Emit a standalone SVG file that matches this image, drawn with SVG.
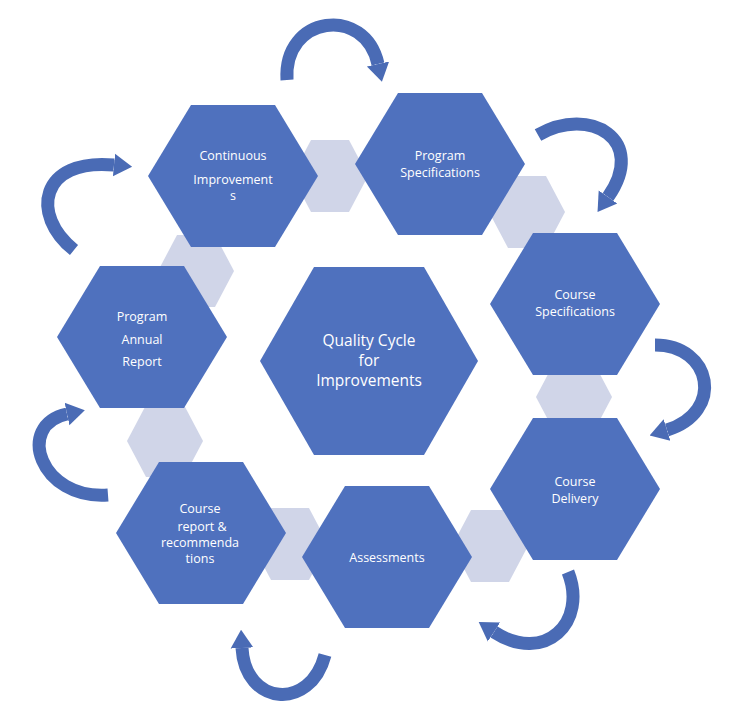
<svg xmlns="http://www.w3.org/2000/svg" width="734" height="724" viewBox="0 0 734 724">
<style>
.h{fill:#4f71be}
.s{fill:#d0d5e8}
.t{fill:#fff;font-family:"Open Sans","Liberation Sans",sans-serif;font-size:12.5px;text-anchor:middle}
.c{font-size:15.5px}
.a{fill:none;stroke:#4a6bb5;stroke-width:13;marker-end:url(#ah)}
</style>
<defs>
<marker id="ah" viewBox="0 0 8 10" refX="0" refY="5" markerWidth="1.4" markerHeight="2.6" orient="auto" markerUnits="strokeWidth">
<path d="M0,0 L8,5 L0,10 z" fill="#4a6bb5"/>
</marker>
</defs>
<rect width="734" height="724" fill="#fff"/>
<g id="connectors">
<polygon class="s" points="311,140 349,140 368,176 349,212 311,212 292,176"/>
<polygon class="s" points="508,176 546,176 565,212 546,248 508,248 489,212"/>
<polygon class="s" points="555,361 593,361 612,397 593,433 555,433 536,397"/>
<polygon class="s" points="471,510 509,510 528,546 509,582 471,582 452,546"/>
<polygon class="s" points="271,508 309,508 328,544 309,580 271,580 252,544"/>
<polygon class="s" points="146,405 184,405 203,441 184,477 146,477 127,441"/>
<polygon class="s" points="177,235 215,235 234,271 215,307 177,307 158,271"/>
<path class="a" d="M287,80 C283,15 365,5 378,64"/>
<path class="a" d="M74,250 C30,215 40,158 114,165"/>
<path class="a" d="M538,135 C590,105 648,140 608,197"/>
<path class="a" d="M655,345 C712,345 725,412 667,430"/>
<path class="a" d="M568,572 C588,622 545,665 494,632"/>
<path class="a" d="M325,655 C310,712 245,705 242,648"/>
<path class="a" d="M108,495 C40,500 15,425 67,414"/>
</g>
<g id="n1"><polygon class="h" points="191,105 275,105 318,176 275,247 191,247 148,176"/>
<text class="t" x="233" y="160">Continuous</text><text class="t" x="233" y="184">Improvement</text><text class="t" x="233" y="200">s</text></g>
<g id="n2"><polygon class="h" points="398,93 482,93 525,164 482,235 398,235 355,164"/>
<text class="t" x="440" y="160">Program</text><text class="t" x="440" y="177">Specifications</text></g>
<g id="n3"><polygon class="h" points="533,233 617,233 660,304 617,375 533,375 490,304"/>
<text class="t" x="575" y="299">Course</text><text class="t" x="575" y="316">Specifications</text></g>
<g id="n4"><polygon class="h" points="533,418 617,418 660,489 617,560 533,560 490,489"/>
<text class="t" x="575" y="486">Course</text><text class="t" x="575" y="503">Delivery</text></g>
<g id="n5"><polygon class="h" points="345,486 429,486 472,557 429,628 345,628 302,557"/>
<text class="t" x="387" y="562">Assessments</text></g>
<g id="n6"><polygon class="h" points="159,462 243,462 286,533 243,604 159,604 116,533"/>
<text class="t" x="200" y="513">Course</text><text class="t" x="202" y="531">report &amp;</text><text class="t" x="200" y="547">recommenda</text><text class="t" x="200" y="563">tions</text></g>
<g id="n7"><polygon class="h" points="100,266 184,266 227,337 184,408 100,408 57,337"/>
<text class="t" x="142" y="321">Program</text><text class="t" x="142" y="344">Annual</text><text class="t" x="142" y="366">Report</text></g>
<g id="n8"><polygon class="h" points="314,267 424,267 478,361 424,455 314,455 260,361"/>
<text class="t c" x="369" y="346">Quality Cycle</text><text class="t c" x="369" y="366">for</text><text class="t c" x="369" y="386">Improvements</text></g>
</svg>
